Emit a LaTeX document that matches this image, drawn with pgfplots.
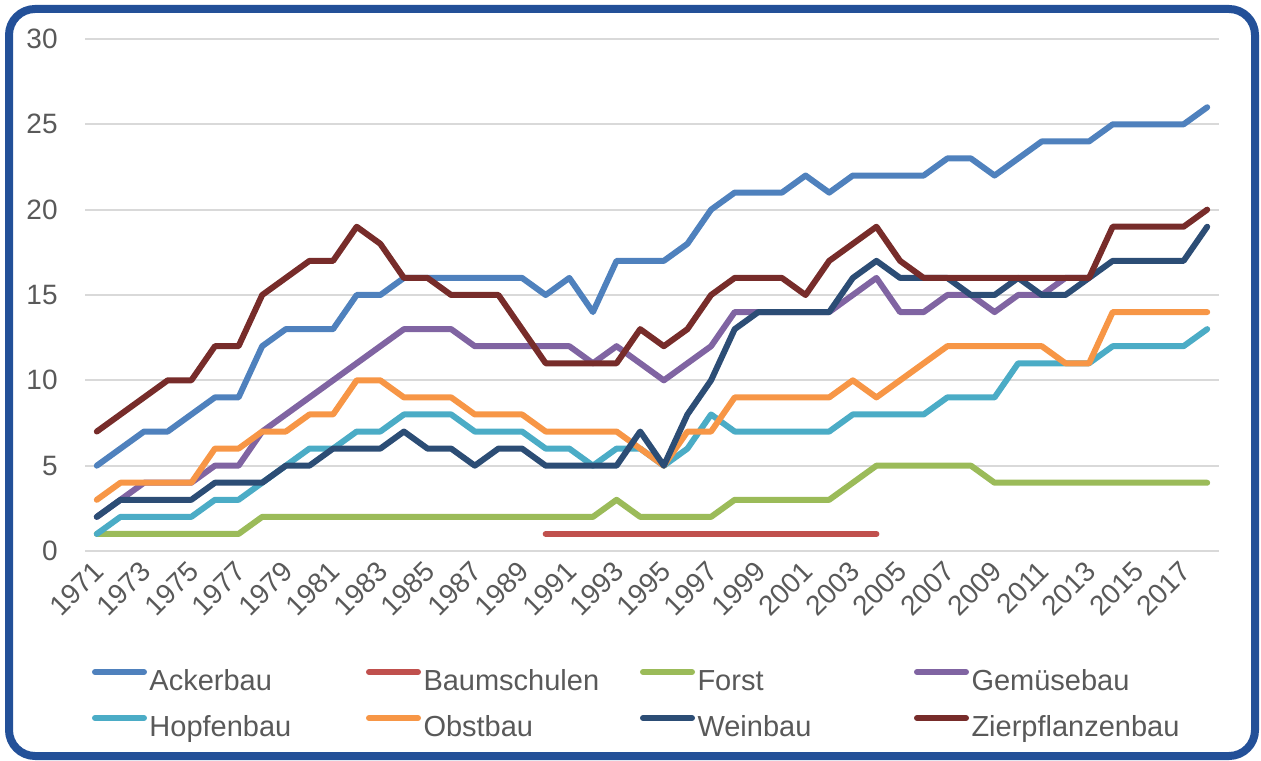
\documentclass[border=0pt]{standalone}
\usepackage{fontspec}
\setmainfont{Liberation Sans}
\usepackage{pgfplots}
\usepackage{pgfplotstable}
\pgfplotsset{compat=1.18}

\definecolor{acker}{HTML}{4F81BD}
\definecolor{baum}{HTML}{C0504D}
\definecolor{forst}{HTML}{9BBB59}
\definecolor{gemuese}{HTML}{8064A2}
\definecolor{hopfen}{HTML}{4BACC6}
\definecolor{obst}{HTML}{F79646}
\definecolor{wein}{HTML}{2C4D75}
\definecolor{zier}{HTML}{772C2A}
\definecolor{framecol}{RGB}{35,80,152}
\definecolor{textgray}{HTML}{595959}
\definecolor{gridgray}{HTML}{D9D9D9}

\pgfplotstableread{
year acker baum forst gemuese hopfen obst wein zier
1971 5 nan 1 2 1 3 2 7
1972 6 nan 1 3 2 4 3 8
1973 7 nan 1 4 2 4 3 9
1974 7 nan 1 4 2 4 3 10
1975 8 nan 1 4 2 4 3 10
1976 9 nan 1 5 3 6 4 12
1977 9 nan 1 5 3 6 4 12
1978 12 nan 2 7 4 7 4 15
1979 13 nan 2 8 5 7 5 16
1980 13 nan 2 9 6 8 5 17
1981 13 nan 2 10 6 8 6 17
1982 15 nan 2 11 7 10 6 19
1983 15 nan 2 12 7 10 6 18
1984 16 nan 2 13 8 9 7 16
1985 16 nan 2 13 8 9 6 16
1986 16 nan 2 13 8 9 6 15
1987 16 nan 2 12 7 8 5 15
1988 16 nan 2 12 7 8 6 15
1989 16 nan 2 12 7 8 6 13
1990 15 1 2 12 6 7 5 11
1991 16 1 2 12 6 7 5 11
1992 14 1 2 11 5 7 5 11
1993 17 1 3 12 6 7 5 11
1994 17 1 2 11 6 6 7 13
1995 17 1 2 10 5 5 5 12
1996 18 1 2 11 6 7 8 13
1997 20 1 2 12 8 7 10 15
1998 21 1 3 14 7 9 13 16
1999 21 1 3 14 7 9 14 16
2000 21 1 3 14 7 9 14 16
2001 22 1 3 14 7 9 14 15
2002 21 1 3 14 7 9 14 17
2003 22 1 4 15 8 10 16 18
2004 22 1 5 16 8 9 17 19
2005 22 nan 5 14 8 10 16 17
2006 22 nan 5 14 8 11 16 16
2007 23 nan 5 15 9 12 16 16
2008 23 nan 5 15 9 12 15 16
2009 22 nan 4 14 9 12 15 16
2010 23 nan 4 15 11 12 16 16
2011 24 nan 4 15 11 12 15 16
2012 24 nan 4 16 11 11 15 16
2013 24 nan 4 16 11 11 16 16
2014 25 nan 4 nan 12 14 17 19
2015 25 nan 4 nan 12 14 17 19
2016 25 nan 4 nan 12 14 17 19
2017 25 nan 4 nan 12 14 17 19
2018 26 nan 4 nan 13 14 19 20
}\datatable

\begin{document}
\begin{tikzpicture}
\useasboundingbox (0,0) rectangle (630.5pt,380pt);
\draw[framecol, line width=4pt, rounded corners=13pt] (4.5pt,2pt) rectangle (627.5pt,375.5pt);
\begin{axis}[
    at={(42.5pt,104.5pt)}, anchor=south west,
    scale only axis, width=567pt, height=256pt,
    xmin=1970.5, xmax=2018.5, ymin=0, ymax=30,
    xtick={1971,1973,...,2017}, ytick={0,5,...,30},
    axis line style={draw=none}, major tick length=0pt,
    ymajorgrids, grid style={gridgray, line width=1pt},
    tick label style={font=\fontsize{14}{17}\selectfont, text=textgray, inner sep=0pt},
    /pgf/number format/assume math mode=true,
    /pgf/number format/1000 sep={},
    xticklabel style={xshift=-2.5pt, rotate=45, anchor=north east},
    xticklabel shift=4pt,
    yticklabel shift=13.5pt,
    clip=false,
    every axis plot/.append style={line width=3pt, line join=round, line cap=round, no marks},
    legend columns=4,
    legend cell align=left,
    legend style={at={(rel axis cs:0,0)}, anchor=north west, xshift=3.5pt, yshift=-54pt,
        draw=none, fill=none, inner sep=0pt, outer sep=0pt,
        font=\fontsize{14.5}{17}\selectfont, text=textgray, row sep=0pt, column sep=0pt,
        nodes={inner xsep=1.25pt, inner ysep=4.5pt, text height=11pt, text depth=3pt},
        /tikz/every even column/.append style={nodes={text width=107pt, align=left}}},
    legend image code/.code={\draw[#1] (0pt,5pt) -- (24.5pt,5pt);},
]
\addplot[acker] table[x=year, y=acker] {\datatable};
\addlegendentry{Ackerbau}
\addplot[baum] table[x=year, y=baum] {\datatable};
\addlegendentry{Baumschulen}
\addplot[forst] table[x=year, y=forst] {\datatable};
\addlegendentry{Forst}
\addplot[gemuese] table[x=year, y=gemuese] {\datatable};
\addlegendentry{Gemüsebau}
\addplot[hopfen] table[x=year, y=hopfen] {\datatable};
\addlegendentry{Hopfenbau}
\addplot[obst] table[x=year, y=obst] {\datatable};
\addlegendentry{Obstbau}
\addplot[wein] table[x=year, y=wein] {\datatable};
\addlegendentry{Weinbau}
\addplot[zier] table[x=year, y=zier] {\datatable};
\addlegendentry{Zierpflanzenbau}
\end{axis}
\end{tikzpicture}
\end{document}
